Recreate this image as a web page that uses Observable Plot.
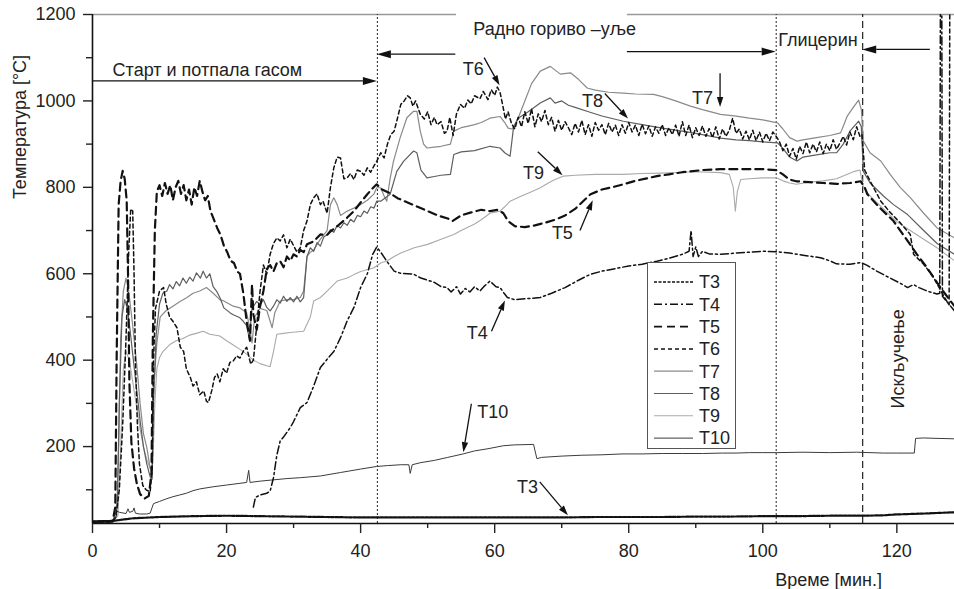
<!DOCTYPE html>
<html><head><meta charset="utf-8">
<script src="https://cdn.jsdelivr.net/npm/d3@7"></script>
<script src="https://cdn.jsdelivr.net/npm/@observablehq/plot@0.6"></script>
<style>
body{margin:0;background:#fff;}
#chart{width:954px;height:589px;}
svg text{font-family:"Liberation Sans",Arial,sans-serif;}
</style></head><body><div id="chart"></div>
<script>
// ---- data: [minutes, °C] ----
const T3 = [[0,27],[3,28],[4,30],[6,34],[10,37],[15,39],[20,40],[25,39],[30,38],[35,37],[40,36],[45,36],[50,36],[55,36],[60,36],[65,36],[70,36],[75,37],[80,37],[85,37],[90,38],[95,38],[100,39],[105,39],[110,40],[115,40],[118,41],[120,43],[124,45],[128.6,48]];
const T4 = [[24,60],[24.3,82],[25,88],[26,92],[26.5,97],[27,128],[27.5,180],[28,213],[28.5,222],[29.5,244],[30,258],[31,290],[32,302],[33,340],[34,383],[35,402],[36,420],[37,452],[38,491],[39,522],[40,568],[41,600],[41.8,645],[42.4,662],[43,650],[43.9,629],[45,606],[46,601],[47.9,599],[49,590],[50,585],[51,580],[52,570],[52.9,568],[53.5,558],[54.3,570],[54.9,553],[55.6,566],[56.3,558],[57,570],[57.8,560],[58.5,572],[59.3,583],[60.2,570],[60.8,568],[61.4,555],[61.9,545],[63,540],[64.5,542],[66.8,545],[68.5,555],[70.5,568],[72.5,585],[74.3,599],[76,606],[78,612],[80,618],[82,622],[84.2,629],[86,636],[88,645],[89,652],[89.3,700],[89.6,640],[90,662],[90.4,640],[91,652],[92,646],[93.7,645],[96,648],[98,650],[100,652],[102,651],[104,648],[106,643],[108.6,637],[110,630],[111,623],[113,622],[114.6,626],[115.5,620],[117,606],[119,590],[120.5,578],[121.6,568],[122.5,575],[123.3,568],[124.5,560],[126,553],[126.4,555],[126.5,1250],[126.7,1250],[126.8,548],[128.6,514]];
const T5 = [[0,26],[3,27],[3.4,60],[3.6,400],[3.9,760],[4.2,815],[4.5,838],[4.8,820],[5.1,770],[5.3,600],[5.5,350],[5.8,210],[6.2,150],[6.6,115],[7.1,90],[7.8,80],[8.4,86],[8.8,140],[9.0,450],[9.3,700],[9.6,790],[10,805],[10.4,780],[10.8,810],[11.2,785],[11.6,805],[12,770],[12.4,800],[12.8,815],[13.2,785],[13.6,805],[14,770],[14.4,795],[14.8,760],[15.2,800],[15.6,780],[16,815],[16.4,790],[16.8,770],[17.2,780],[17.6,745],[18,730],[18.6,706],[19.1,690],[19.6,665],[20.1,650],[20.6,630],[21.1,625],[21.6,605],[22,600],[22.5,555],[23,490],[23.5,445],[23.8,575],[24,506],[24.5,470],[25,525],[25.5,560],[26,611],[26.5,620],[27,605],[27.5,625],[28,629],[28.5,615],[29,640],[29.5,630],[30,645],[30.5,640],[31,655],[31.5,650],[32,668],[33,675],[34,691],[35,690],[35.5,698],[36.5,710],[38,730],[39,745],[40,765],[41,784],[41.8,798],[42.4,807],[43.2,795],[44.4,786],[45.5,775],[47,765],[48.5,755],[50,745],[51.5,735],[53,728],[53.7,722],[55,735],[56.5,742],[58,748],[59.3,745],[60.5,748],[61.3,740],[62,722],[63,710],[64.5,708],[66,712],[67.5,718],[69,725],[70.5,735],[72,750],[73,765],[74.3,784],[76,795],[77.5,800],[79.2,807],[81,815],[82.5,820],[84.2,826],[86,830],[88,835],[89.2,837],[91,840],[93.7,842],[96,842],[98,842],[100,842],[102,840],[103,830],[104,818],[105,814],[107,812],[109,810],[111,808],[113,810],[114.6,814],[115.2,800],[115.6,784],[117.5,752],[119.5,722],[121.6,676],[123,645],[124.5,614],[126.5,568],[128,537],[128.6,525]];
const T6 = [[0,25],[3,26],[3.5,40],[4,100],[4.5,250],[5,450],[5.4,650],[5.7,750],[6,745],[6.2,600],[6.4,400],[6.7,250],[7,160],[7.5,110],[8,100],[8.6,95],[8.9,150],[9.1,400],[9.4,520],[10,560],[10.6,568],[11,530],[11.5,500],[12,490],[12.6,475],[13.1,430],[13.6,420],[14,380],[14.6,360],[15,340],[15.5,350],[16,320],[16.6,329],[17,305],[17.3,302],[17.8,330],[18.2,360],[18.6,368],[19,350],[19.5,380],[20,370],[20.5,395],[21,398],[21.5,410],[22,405],[22.5,421],[23,430],[23.6,391],[24,400],[24.5,480],[25,560],[25.5,620],[26,600],[26.5,645],[27,670],[27.5,683],[28,676],[28.5,690],[29,660],[29.5,680],[30,665],[30.5,650],[31,660],[31.5,700],[32,722],[32.5,760],[33,776],[33.5,785],[34,760],[34.4,768],[35,740],[35.5,800],[36,845],[36.5,870],[37,868],[37.5,820],[38,822],[38.5,832],[39,818],[39.5,840],[40,837],[40.5,828],[41,845],[41.5,835],[42,850],[42.4,860],[43,880],[43.5,868],[44,900],[44.5,922],[45,930],[45.5,960],[46,992],[46.5,1000],[47,1012],[47.4,1007],[47.8,988],[48.2,1000],[48.9,969],[49.5,958],[50,975],[50.5,945],[51,962],[51.4,945],[52,952],[52.5,925],[52.9,930],[53.3,962],[53.8,920],[54.3,970],[54.9,992],[55.5,983],[56,1002],[56.5,993],[57,1012],[57.8,1005],[58.3,1022],[59,1003],[59.5,1026],[60,1013],[60.4,1032],[60.8,1020],[61.2,990],[61.6,958],[62,975],[62.5,948],[63,935],[63.5,962],[64,940],[64.5,975],[65,948],[65.5,982],[66,940],[66.5,970],[67,952],[67.5,978],[68,945],[68.5,962],[69,930],[69.5,955],[70,932],[70.5,952],[71,938],[71.5,922],[72,948],[72.5,928],[73,955],[73.5,922],[74,945],[74.5,918],[75,950],[75.5,932],[76,945],[76.5,922],[77,948],[77.5,928],[78,944],[78.5,920],[79,945],[79.5,925],[80,950],[80.5,928],[81,944],[81.5,920],[82,946],[82.5,924],[83,942],[83.5,918],[84,940],[84.5,925],[85,945],[85.5,920],[86,938],[86.5,922],[87,944],[87.5,918],[88,952],[88.5,920],[89,944],[89.5,915],[90,938],[90.5,920],[91,942],[91.5,918],[92,936],[92.5,915],[93,940],[93.5,912],[94,935],[94.5,918],[95,932],[95.5,960],[96,925],[96.5,935],[97,912],[97.5,930],[98,910],[98.5,932],[99,908],[99.5,928],[100,905],[100.5,925],[101,908],[101.5,928],[102,918],[102.5,905],[103,885],[103.5,900],[104,872],[104.5,890],[105,865],[105.5,895],[106,878],[106.5,905],[107,880],[107.5,900],[108,882],[108.5,905],[109,878],[109.5,900],[110,885],[110.5,910],[111,888],[111.5,902],[112,918],[112.5,898],[113,928],[113.5,910],[114,940],[114.5,918],[114.8,922],[115.2,840],[116,815],[117.6,768],[119,742],[120.5,718],[122,691],[122.5,645],[124,622],[125.5,591],[127,548],[127.8,528],[127.9,1250]];
const T7 = [[0,24],[3,25],[3.6,40],[3.9,200],[4.2,450],[4.6,560],[5,590],[5.4,560],[6,480],[6.6,390],[7.1,300],[7.6,230],[8.1,198],[8.6,150],[8.9,140],[9.1,330],[9.6,440],[10.1,500],[11,515],[12,525],[13,535],[14.1,545],[15,555],[16,560],[17,568],[18,555],[19,540],[19.6,537],[21,525],[22,521],[23,510],[23.5,470],[23.8,440],[24.2,500],[25,520],[26,515],[26.5,490],[26.8,475],[27.2,510],[28,537],[29,540],[30,540],[31,545],[31.5,560],[32,640],[32.5,650],[33,655],[34,680],[35,700],[35.5,760],[36,776],[36.5,760],[37,735],[37.5,740],[38,745],[39,752],[40,760],[41,770],[42,785],[42.4,799],[43,799],[43.5,780],[43.9,768],[44.4,820],[44.9,860],[45.9,915],[46.9,961],[47.9,976],[48.4,976],[48.9,930],[49.4,900],[49.9,891],[51,893],[52,895],[53.4,900],[53.9,930],[55,938],[55.9,941],[57,945],[58,950],[59.3,960],[60.8,964],[61.5,950],[62,937],[62.6,935],[63.5,960],[64.5,1000],[65.5,1040],[66.8,1069],[68.3,1080],[69.8,1062],[71.3,1065],[72.5,1050],[73.8,1030],[75,1025],[77,1020],[79.2,1018],[81,1016],[83.7,1015],[85,1010],[87,1000],[89.2,988],[91,980],[93.7,969],[96,965],[98,960],[100,956],[102.2,949],[103,935],[104,915],[105.1,907],[106,910],[108,915],[110,920],[111.6,926],[112.1,945],[112.6,965],[113.5,985],[114.3,1002],[114.7,980],[115,907],[116,880],[117.6,861],[119,830],[120.5,800],[122,776],[124,740],[126,706],[128.6,683]];
const T8 = [[0,25],[3,26],[3.7,60],[4,300],[4.4,500],[4.8,540],[5.2,520],[5.6,470],[6.1,400],[6.6,330],[7.1,260],[7.6,200],[8.1,160],[8.6,130],[8.9,125],[9.1,300],[9.5,460],[10,530],[10.5,555],[11.1,560],[11.5,575],[12,565],[12.5,582],[13,572],[13.5,590],[14,578],[14.5,592],[15,583],[15.5,602],[16.1,590],[16.5,606],[17,590],[17.5,600],[18,570],[18.5,560],[19,545],[19.6,521],[20.5,510],[21,505],[22,498],[22.5,490],[23,480],[23.4,450],[23.8,520],[24.5,536],[25,528],[25.5,540],[26,522],[26.5,514],[27,525],[27.5,540],[28,532],[28.5,548],[29,536],[29.5,545],[30,535],[30.5,548],[31,535],[31.5,545],[32,640],[32.5,660],[33,652],[33.5,672],[34,664],[34.5,685],[35,690],[35.5,702],[36,696],[36.5,712],[37,706],[37.5,718],[38,712],[38.5,726],[39,720],[39.5,735],[40,732],[40.5,745],[41,740],[41.5,755],[42,752],[42.4,768],[43,768],[44.4,784],[45.4,837],[46.4,860],[47.9,884],[48.4,880],[49,840],[49.9,822],[51,825],[52,828],[53.4,830],[53.9,876],[55,882],[57,885],[59.3,895],[60.8,891],[61.5,880],[62.3,872],[62.8,937],[63.5,960],[65,975],[66.8,995],[68.3,1007],[69,995],[70,1000],[71,990],[72,985],[74,975],[76,965],[79.2,953],[82,945],[85,937],[88,930],[90,925],[93.7,914],[96,910],[98,908],[100,905],[102.2,903],[103,890],[104,870],[105.1,861],[106,870],[108,875],[110,880],[111,880],[112,900],[113,930],[114.3,953],[114.7,940],[115,837],[116,810],[118,780],[119.5,760],[121.6,737],[124,700],[126,670],[128.6,645]];
const T9 = [[0,24],[3,25],[3.8,40],[4.2,200],[4.6,380],[5,420],[5.5,400],[6,350],[6.6,290],[7.1,240],[7.6,200],[8.1,170],[8.6,150],[9,160],[9.3,300],[9.6,380],[10,406],[10.5,420],[11.6,437],[12.5,445],[13.5,450],[14.5,458],[15.5,462],[16.5,467],[17.5,460],[19,456],[20,445],[21,435],[22,425],[23,414],[24,400],[25,392],[26,387],[26.5,385],[27,420],[27.5,460],[28.5,462],[29.5,464],[31.5,467],[32.5,500],[33,537],[34,545],[35,560],[36.5,583],[38,590],[39,598],[40,605],[42,614],[43,625],[44,630],[45,640],[46,648],[48,660],[50,668],[52,680],[53.9,691],[55,700],[57,715],[58,725],[59.3,740],[60.8,745],[61.5,755],[62.3,768],[64,780],[65.5,790],[66.8,799],[68,810],[69,818],[70.3,826],[72,828],[75,830],[79.2,830],[82,832],[85,833],[88,835],[90,836],[93.7,834],[95,830],[95.6,800],[95.9,745],[96.2,790],[96.7,818],[98,820],[100,822],[102,822],[103,815],[104,810],[105,807],[107,812],[109,815],[111,820],[113.7,837],[114.5,840],[115,800],[116,780],[118,750],[120,720],[122,700],[124,680],[126,660],[128.6,630]];
const T10 = [[0,25],[3,26],[3.5,35],[3.6,51],[4,48],[5,45],[5.3,56],[5.5,48],[6,50],[6.2,58],[6.4,46],[7,44],[8.1,44],[8.6,46],[9.1,68],[10,73],[11,79],[12,84],[13,88],[14,92],[15,98],[16,102],[18,107],[20,111],[22,115],[23,117],[23.3,145],[23.5,117],[25,120],[27,123],[29,126],[31,128],[34,132],[37,140],[40,148],[42.4,154],[44,156],[46,158],[47.2,158],[47.4,138],[47.7,158],[49,163],[51,168],[53,175],[55.3,183],[57,190],[59,195],[61.3,202],[63,204],[65.8,205],[66.1,185],[66.3,172],[67,175],[70,178],[73,180],[76,181],[79,183],[82,183],[85,184],[88,184],[91,184],[94,185],[96,185],[98,186],[100,186],[102,186],[106,187],[110,186],[114,187],[116,186],[118,185],[120,185],[122.6,185],[122.8,219],[124,220],[126,219],[128.6,218]];

const seriesNames = ["T3","T4","T5","T6","T7","T8","T9","T10"];
const seriesData = [T3, T4, T5, T6, T7, T8, T9, T10];

// axis ticks
const xMajor = [0,20,40,60,80,100,120];
const xMinor = [10,30,50,70,90,110];
const yMajor = [200,400,600,800,1000,1200];
const yMinor = [100,300,500,700,900,1100];

// phase boundaries (minutes) and annotation content
const phaseBounds = [42.5, 102, 114.9];
const phaseTexts = [
  {text:"Старт и потпала гасом", x:3, y:1070},
  {text:"Радно гориво –уље", x:56.8, y:1165},
  {text:"Глицерин", x:102.3, y:1141}
];
const phaseArrows = [
  {x1:0, y1:1045, x2:42.5, y2:1045},
  {x1:54.2, y1:1107, x2:42.5, y2:1107},
  {x1:79.8, y1:1113, x2:102, y2:1113},
  {x1:125, y1:1118, x2:114.9, y2:1118}
];
const topFrame = [{a:0, b:54.3}, {a:79.8, b:128.6}];
const shutdownText = [{text:"Искључење", x:120.2, y:403}];
const seriesLabels = [
  {text:"T6", x:56.8, y:1074}, {text:"T8", x:74.6, y:1000}, {text:"T7", x:91, y:1007},
  {text:"T9", x:65.8, y:833}, {text:"T5", x:70.1, y:694}, {text:"T4", x:57.4, y:463},
  {text:"T10", x:59.7, y:280}, {text:"T3", x:64.9, y:105}
];
const labelArrows = [
  {x1:58.5,y1:1099,x2:60.8,y2:1035},
  {x1:76.5,y1:1016,x2:79.97,y2:958},
  {x1:93.7,y1:1063,x2:93.7,y2:985},
  {x1:66.5,y1:881,x2:70.2,y2:827},
  {x1:72.8,y1:699,x2:74.7,y2:769},
  {x1:59.6,y1:466,x2:61.6,y2:537},
  {x1:56.6,y1:298,x2:55.4,y2:186},
  {x1:66.8,y1:117,x2:71.0,y2:40}
];

// styles
const styles = {
  T3:{stroke:"#111", w:2.2, dash:"3,1.5"},
  T4:{stroke:"#111", w:1.5, dash:"8,3,2,3"},
  T5:{stroke:"#111", w:2.2, dash:"8,5"},
  T6:{stroke:"#111", w:1.5, dash:"4,3"},
  T7:{stroke:"#8a8a8a", w:1.2, dash:null},
  T8:{stroke:"#5e5e5e", w:1.2, dash:null},
  T9:{stroke:"#aaaaaa", w:1.1, dash:null},
  T10:{stroke:"#3c3c3c", w:1.0, dash:null}
};
const drawOrder = ["T9","T7","T8","T10","T4","T5","T6","T3"];
const FS = 18;

const lineMarks = drawOrder.map(name => {
  const i = seriesNames.indexOf(name);
  const s = styles[name];
  const rows = seriesData[i].map(([t, v]) => ({t, v}));
  return Plot.line(rows, {x:"t", y:"v", stroke:s.stroke, strokeWidth:s.w, strokeDasharray:s.dash, clip:true, strokeLinejoin:"round"});
});

const chart = Plot.plot({
  width: 954, height: 589,
  marginLeft: 92, marginRight: 0, marginTop: 14, marginBottom: 66,
  style: {fontFamily:"Liberation Sans, Arial, sans-serif", fontSize:FS+"px", background:"#fff", color:"#222"},
  x: {domain:[0,128.6]},
  y: {domain:[22,1200]},
  marks: [
    Plot.ruleY(topFrame, {y:1200, x1:"a", x2:"b", stroke:"#999", strokeWidth:1.3}),
    Plot.ruleX(phaseBounds.slice(0,2), {y1:22, y2:1200, stroke:"#222", strokeWidth:1, strokeDasharray:"2,2"}),
    Plot.ruleX(phaseBounds.slice(2), {y1:22, y2:1200, stroke:"#222", strokeWidth:1.2, strokeDasharray:"7,4"}),
    ...lineMarks,
    Plot.ruleX([0], {y1:22, y2:1200, stroke:"#111", strokeWidth:1.6}),
    Plot.ruleY([22], {stroke:"#111", strokeWidth:1.6}),
    Plot.axisY({ticks:yMajor, tickSize:9, tickPadding:8, label:null, tickFormat:d3.format("d"), strokeWidth:1.4, fontSize:FS}),
    Plot.axisY({ticks:yMinor, tickSize:6, tickFormat:()=>"", label:null, strokeWidth:1.4}),
    Plot.axisX({ticks:xMajor, tickSize:10, tickPadding:11, label:null, tickFormat:d3.format("d"), strokeWidth:1.4, fontSize:FS}),
    Plot.axisX({ticks:xMinor, tickSize:5, tickFormat:()=>"", label:null, strokeWidth:1.4}),
    Plot.text(phaseTexts, {x:"x", y:"y", text:"text", textAnchor:"start", lineAnchor:"middle", fill:"#222", fontSize:FS}),
    Plot.text(shutdownText, {x:"x", y:"y", text:"text", rotate:-90, lineAnchor:"middle", fill:"#222", fontSize:FS}),
    Plot.text(seriesLabels, {x:"x", y:"y", text:"text", lineAnchor:"middle", fill:"#222", fontSize:FS})
  ]
});
document.getElementById("chart").appendChild(chart);

const sx = chart.scale("x"), sy = chart.scale("y");
const svg = d3.select(chart);

// arrows with filled heads
function drawArrow(a, headLen, headW) {
  const x1 = sx.apply(a.x1), y1 = sy.apply(a.y1), x2 = sx.apply(a.x2), y2 = sy.apply(a.y2);
  const ang = Math.atan2(y2 - y1, x2 - x1);
  const bx = x2 - headLen * Math.cos(ang), by = y2 - headLen * Math.sin(ang);
  svg.append("line").attr("x1", x1).attr("y1", y1).attr("x2", bx).attr("y2", by)
    .attr("stroke", "#111").attr("stroke-width", 1.3);
  const px = -Math.sin(ang) * headW, py = Math.cos(ang) * headW;
  svg.append("path").attr("d", `M${x2},${y2}L${bx+px},${by+py}L${bx-px},${by-py}Z`).attr("fill", "#111");
}
phaseArrows.forEach(a => drawArrow(a, 14, 4));
labelArrows.forEach(a => drawArrow(a, 10, 3.2));

// axis titles
svg.append("text").attr("transform", "translate(26,127) rotate(-90)").attr("text-anchor", "middle")
  .attr("font-size", 18).attr("fill", "#222").text("Температура [°C]");
svg.append("text").attr("x", 882).attr("y", 586).attr("text-anchor", "end")
  .attr("font-size", FS).attr("fill", "#222").text("Време [мин.]");

// legend
const lg = svg.append("g");
lg.append("rect").attr("x", 647.5).attr("y", 262.5).attr("width", 88).attr("height", 186)
  .attr("fill", "#fff").attr("stroke", "#555").attr("stroke-width", 1);
seriesNames.forEach((name, i) => {
  const y = 282 + i * 22.3;
  const s = styles[name];
  lg.append("line").attr("x1", 654).attr("x2", 693).attr("y1", y).attr("y2", y)
    .attr("stroke", s.stroke).attr("stroke-width", Math.min(s.w, 1.6)).attr("stroke-dasharray", s.dash);
  lg.append("text").attr("x", 699).attr("y", y + 6.3).attr("text-anchor", "start")
    .attr("font-size", FS).attr("fill", "#222").text(name);
});
</script>
</body></html>
